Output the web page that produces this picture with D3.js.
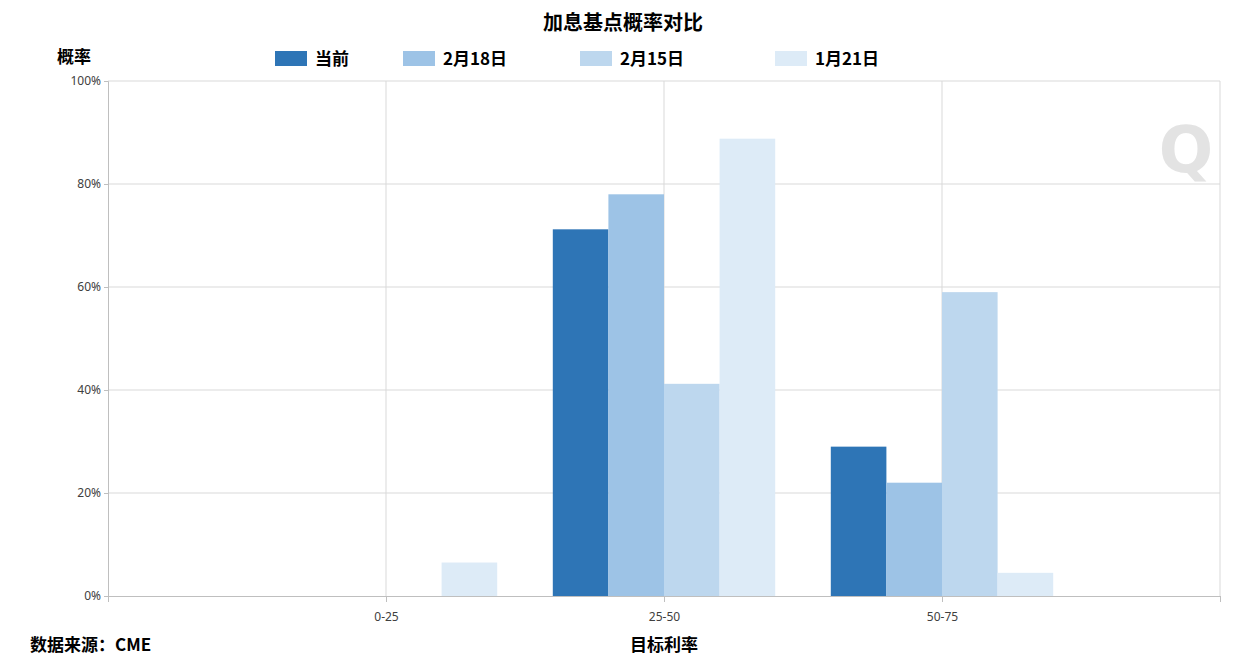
<!DOCTYPE html>
<html><head><meta charset="utf-8">
<script src="https://cdn.jsdelivr.net/npm/d3@7"></script>
<style>body{margin:0;background:#fff;font-family:"Noto Sans CJK SC","Noto Sans",sans-serif}</style>
</head><body><svg id="c" width="1247" height="664"></svg>
<script>
const categories=["0-25","25-50","50-75"];
const seriesNames=["当前","2月18日","2月15日","1月21日"];
const seriesValues=[[0,71.2,29],[0,78,22],[0,41.2,59],[6.5,88.8,4.5]];
const yTicks=[0,20,40,60,80,100];
const colors=["#2e75b6","#9dc3e6","#bdd7ee","#ddebf7"];
const svg=d3.select("#c");
const L=108,R=1220,T=81,B=596;
const x=d3.scaleLinear().domain([0,4]).range([L,R]);
const y=d3.scaleLinear().domain([0,100]).range([B,T]);
const step=x(1)-x(0), bw=step*0.8/4;
// grid
svg.append("g").selectAll("line").data(yTicks.slice(1)).join("line")
 .attr("x1",L).attr("x2",R).attr("y1",d=>y(d)).attr("y2",d=>y(d)).attr("stroke","#d9d9d9");
svg.append("g").selectAll("line").data([1,2,3,4]).join("line")
 .attr("x1",d=>x(d)).attr("x2",d=>x(d)).attr("y1",T).attr("y2",B).attr("stroke","#d9d9d9");
// watermark
svg.append("text").attr("x",1186).attr("y",172).attr("text-anchor","middle").attr("font-size",64)
 .attr("font-weight","bold").attr("fill","#e3e3e3").attr("font-family","DejaVu Sans").text("Q");
// bars
seriesValues.forEach((vals,s)=>{
 svg.append("g").selectAll("rect").data(vals).join("rect")
  .attr("x",(d,i)=>x(i+1)-2*bw+s*bw).attr("width",bw)
  .attr("y",d=>y(d)).attr("height",d=>B-y(d)).attr("fill",colors[s]);
});
// axes
svg.append("g").attr("transform",`translate(${L},0)`)
 .call(d3.axisLeft(y).tickValues(yTicks).tickFormat(d=>d+"%").tickSize(4))
 .call(g=>{g.selectAll("text").attr("font-size",12).attr("fill","#404040").attr("font-family","Noto Sans");g.selectAll("line,path").attr("stroke","#bfbfbf");});
svg.append("g").attr("transform",`translate(0,${B})`)
 .call(d3.axisBottom(x).tickValues([0,1,2,3,4]).tickFormat(d=>categories[d-1]||"").tickSize(6).tickPadding(10))
 .call(g=>{g.selectAll("text").attr("font-size",12).attr("fill","#404040").attr("font-family","Noto Sans");g.selectAll("line,path").attr("stroke","#bfbfbf");});
// texts
svg.append("text").attr("x",623).attr("y",30).attr("text-anchor","middle").attr("font-size",20).attr("font-weight","bold").text("加息基点概率对比");
svg.append("text").attr("x",57).attr("y",63).attr("font-size",17).attr("font-weight","bold").text("概率");
svg.append("text").attr("x",30).attr("y",651).attr("font-size",17).attr("font-weight","bold").text("数据来源：CME");
svg.append("text").attr("x",664).attr("y",651).attr("text-anchor","middle").attr("font-size",17).attr("font-weight","bold").text("目标利率");
const lx=[275,403,580,775];
seriesNames.forEach((n,i)=>{
 svg.append("rect").attr("x",lx[i]).attr("y",51).attr("width",32).attr("height",15).attr("fill",colors[i]);
 svg.append("text").attr("x",lx[i]+40).attr("y",65).attr("font-size",17).attr("font-weight","bold").text(n);
});
</script></body></html>
